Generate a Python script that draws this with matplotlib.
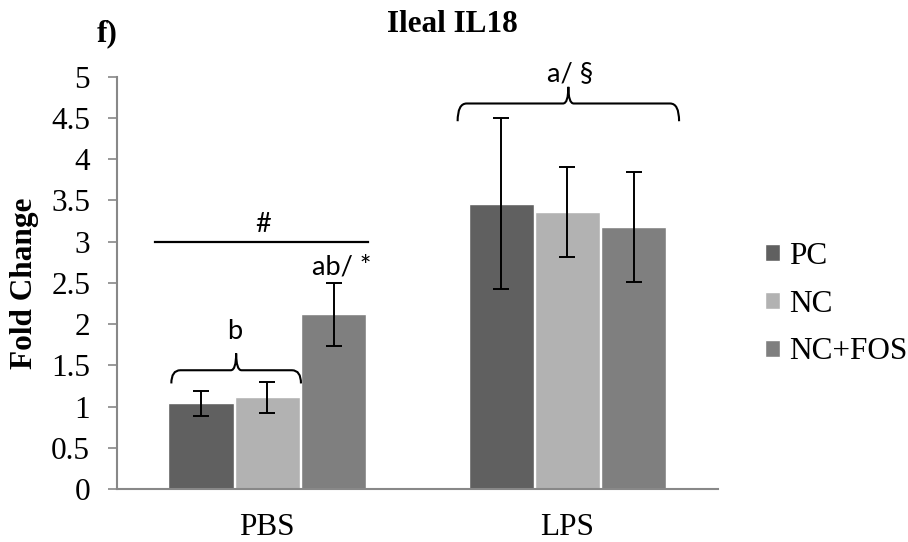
import matplotlib
matplotlib.use("Agg")
import matplotlib.pyplot as plt
import numpy as np
from matplotlib.path import Path
from matplotlib.patches import PathPatch

plt.rcParams["font.family"] = ["Liberation Serif", "DejaVu Serif"]

# data
groups = ["PBS", "LPS"]
series = ["PC", "NC", "NC+FOS"]
pc_mean = [1.04, 3.46]
pc_err = [0.15, 1.04]
nc_mean = [1.11, 3.36]
nc_err = [0.19, 0.55]
fos_mean = [2.12, 3.18]
fos_err = [0.38, 0.67]
colors = ["#606060", "#b2b2b2", "#7f7f7f"]

means = [pc_mean, nc_mean, fos_mean]
errs = [pc_err, nc_err, fos_err]

fig = plt.figure(figsize=(9.08, 5.42), dpi=100)
ax = fig.add_axes([0.1292, 0.0978, 0.661, 0.7607])

x = np.arange(len(groups))
w = 0.217
offs = [-0.221, 0.0, 0.221]
for m, e, c, lab, o in zip(means, errs, colors, series, offs):
    ax.bar(x + o, m, w, color=c, edgecolor="white", linewidth=1, label=lab, zorder=2)
    ax.errorbar(x + o, m, yerr=e, fmt="none", ecolor="black", elinewidth=1.4,
                capsize=6, capthick=1.4, zorder=3)

ax.set_xlim(-0.5, 1.5)
ax.set_ylim(0, 5)
ax.set_yticks(np.arange(0, 5.01, 0.5))
ax.set_yticklabels(["0", "0.5", "1", "1.5", "2", "2.5", "3", "3.5", "4", "4.5", "5"])
ax.set_xticks(x)
ax.set_xticklabels(groups)
ax.tick_params(axis="y", labelsize=22.5, length=6.5, width=1.2, color="#888888", pad=13)
ax.tick_params(axis="x", labelsize=22.5, length=0, pad=17)
for s in ["top", "right"]:
    ax.spines[s].set_visible(False)
for s in ["left", "bottom"]:
    ax.spines[s].set_color("#888888")
    ax.spines[s].set_linewidth(1.5)


def brace(x0, x1, yb, ytip, ynub, dx=0.03):
    xc = (x0 + x1) / 2
    verts = [(x0, ytip), (x0, yb), (x0 + dx, yb), (xc - dx * 0.6, yb),
             (xc, yb), (xc, ynub), (xc, yb), (xc + dx * 0.6, yb),
             (x1 - dx, yb), (x1, yb), (x1, ytip)]
    codes = [Path.MOVETO, Path.CURVE3, Path.CURVE3, Path.LINETO,
             Path.CURVE3, Path.CURVE3, Path.CURVE3, Path.CURVE3,
             Path.LINETO, Path.CURVE3, Path.CURVE3]
    ax.add_patch(PathPatch(Path(verts, codes), fill=False, lw=1.5,
                           edgecolor="black", clip_on=False, zorder=4))


ann = dict(family=["Lato", "DejaVu Sans"], fontsize=19.5, ha="center", va="center")

# PBS annotations
ax.plot([-0.375, 0.336], [3.0, 3.0], color="black", lw=1.6)
ax.text(-0.015, 3.21, "#", **ann)
ax.text(0.247, 2.69, "ab/ *", **ann)
brace(-0.32, 0.112, 1.44, 1.28, 1.645)
ax.text(-0.108, 1.91, "b", **ann)

# LPS annotations
brace(0.634, 1.372, 4.675, 4.46, 4.877)
ax.text(1.008, 5.04, "a/ §", **ann)

fig.text(25 / 908, 0.478, "Fold Change", rotation=90, fontsize=22.5,
         fontweight="bold", ha="center", va="center")
fig.text(452 / 908, 1 - 25 / 542, "Ileal IL18", fontsize=22.5,
         fontweight="bold", ha="center", va="center")
fig.text(107 / 908, 1 - 34 / 542, "f)", fontsize=22.5,
         fontweight="bold", ha="center", va="center")

fig.legend(loc="center left", bbox_to_anchor=(0.843, 0.439), frameon=False,
           fontsize=22.5, handlelength=0.45, handleheight=0.45,
           handletextpad=0.3, labelspacing=0.6, borderpad=0, borderaxespad=0)

fig.savefig("out.png", dpi=100)
